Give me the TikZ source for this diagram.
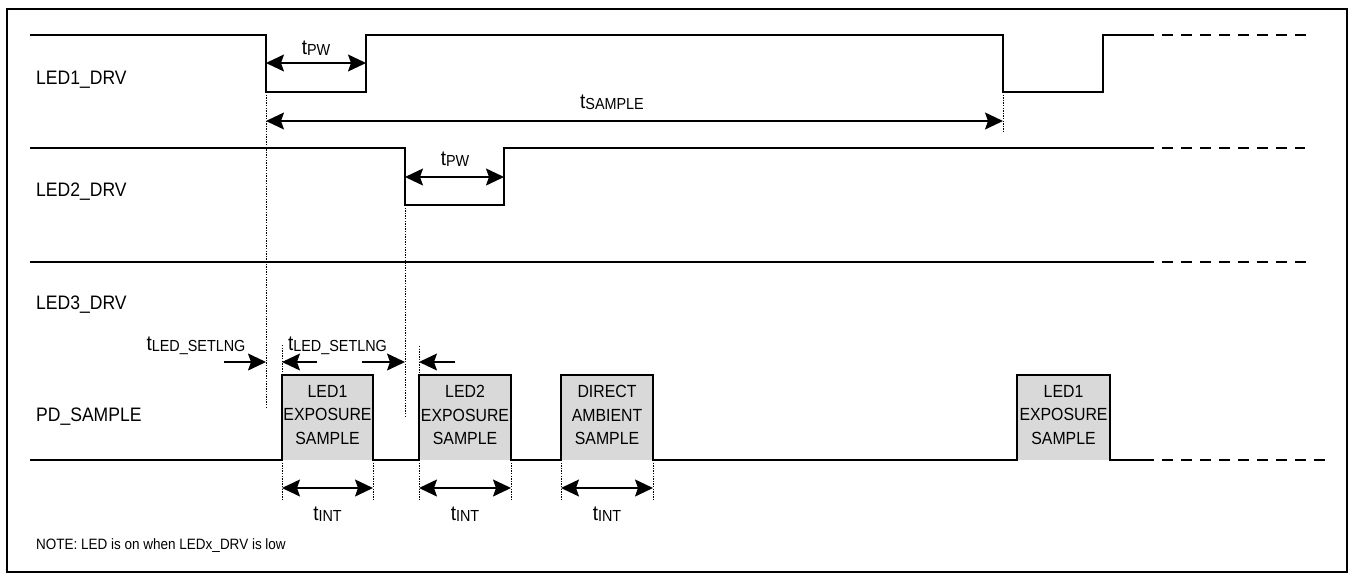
\documentclass[tikz,border=0pt]{standalone}
\usepackage{fontspec}
\setmainfont{Liberation Sans}[FakeStretch=0.9]
\usetikzlibrary{arrows.meta}
\newcommand\tsub[1]{{\fontsize{21}{21}\selectfont t}\raisebox{-1pt}{\fontsize{16}{16}\selectfont #1}}
\begin{document}
\begin{tikzpicture}[x=1pt,y=-1pt,
  sig/.style={line width=1.4pt, line join=miter},
  ext/.style={line width=1.4pt, dash pattern=on 11pt off 8pt},
  dotl/.style={line width=1pt, dash pattern=on 1.3pt off 1.3pt},
  tip/.tip={Stealth[length=18pt,width=17pt,inset=3pt]},
  dim/.style={line width=1.4pt, tip-tip},
  rdim/.style={line width=1.4pt, -tip},
  lbl/.style={anchor=west, inner sep=0pt, font=\fontsize{19.5}{20}\selectfont},
  tlbl/.style={anchor=base, inner sep=0pt},
  boxtxt/.style={inner sep=0pt, align=center, font=\fontsize{17.6}{23.5}\selectfont}
]
\useasboundingbox (0,0) rectangle (1351,576);
\draw[line width=2pt] (7,9) rectangle (1347,572);

% sample boxes fill
\fill[black!15] (282,375) rectangle (373,460);
\fill[black!15] (419,375) rectangle (511,460);
\fill[black!15] (561,375) rectangle (653,460);
\fill[black!15] (1017,375) rectangle (1110,460);

% signals
\draw[sig] (30,35) -- (266,35) -- (266,92) -- (366,92) -- (366,35) -- (1003,35) -- (1003,92) -- (1103,92) -- (1103,35) -- (1143,35);
\draw[ext] (1143,35) -- (1313,35);
\draw[sig] (30,148) -- (405,148) -- (405,205) -- (504,205) -- (504,148) -- (1143,148);
\draw[ext] (1143,148) -- (1305,148);
\draw[sig] (30,262) -- (1143,262);
\draw[ext] (1143,262) -- (1308,262);
\draw[sig] (30,460) -- (282,460) -- (282,375) -- (373,375) -- (373,460) -- (419,460) -- (419,375) -- (511,375) -- (511,460) -- (561,460) -- (561,375) -- (653,375) -- (653,460) -- (1017,460) -- (1017,375) -- (1110,375) -- (1110,460) -- (1143,460);
\draw[ext] (1143,460) -- (1325,460);

% labels
\node[lbl] (l1) at (36,80) {LED1\_DRV};
\node[lbl] (l2) at (36,192) {LED2\_DRV};
\node[lbl] (l3) at (36,305) {LED3\_DRV};
\node[lbl] (l4) at (36,417) {PD\_SAMPLE};
\node[lbl, font=\fontsize{15}{16}\selectfont] (note) at (36,546) {NOTE: LED is on when LEDx\_DRV is low};

% box texts
\node[boxtxt] (b1) at (327.5,415) {LED1\\EXPOSURE\\SAMPLE};
\node[boxtxt] (b2) at (465,415) {LED2\\EXPOSURE\\SAMPLE};
\node[boxtxt] (b3) at (607,415) {DIRECT\\AMBIENT\\SAMPLE};
\node[boxtxt] (b4) at (1063.5,415) {LED1\\EXPOSURE\\SAMPLE};

% dotted guides
\draw[dotl] (266,92) -- (266,409);
\draw[dotl] (1003,92) -- (1003,132);
\draw[dotl] (405,205) -- (405,417);
\draw[dotl] (282,345) -- (282,375);
\draw[dotl] (419,346) -- (419,375);
\foreach \xx in {282,373,419,511,561,653} \draw[dotl] (\xx,460) -- (\xx,500);

% tPW
\draw[dim] (266,63) -- (366,63);
\node[tlbl] (tpw1) at (316,54) {\tsub{PW}};
\draw[dim] (405,177) -- (504,177);
\node[tlbl] (tpw2) at (455,165) {\tsub{PW}};
% tSAMPLE
\draw[dim] (266,121) -- (1003,121);
\node[tlbl] (tsam) at (612,108) {\tsub{SAMPLE}};

% tLED_SETLNG
\node[tlbl] (ts1) at (196,350) {\tsub{LED\_SETLNG}};
\draw[rdim] (224,362) -- (266,362);
\node[tlbl] (ts2) at (337.5,350) {\tsub{LED\_SETLNG}};
\draw[rdim] (317,362) -- (282,362);
\draw[rdim] (362,362) -- (405,362);
\draw[rdim] (455,362) -- (419,362);

% tINT
\draw[dim] (282,488) -- (373,488);
\draw[dim] (419,488) -- (511,488);
\draw[dim] (561,488) -- (653,488);
\node[tlbl] (ti1) at (327.5,520) {\tsub{INT}};
\node[tlbl] (ti2) at (465,520) {\tsub{INT}};
\node[tlbl] (ti3) at (607,520) {\tsub{INT}};
\end{tikzpicture}
\end{document}
